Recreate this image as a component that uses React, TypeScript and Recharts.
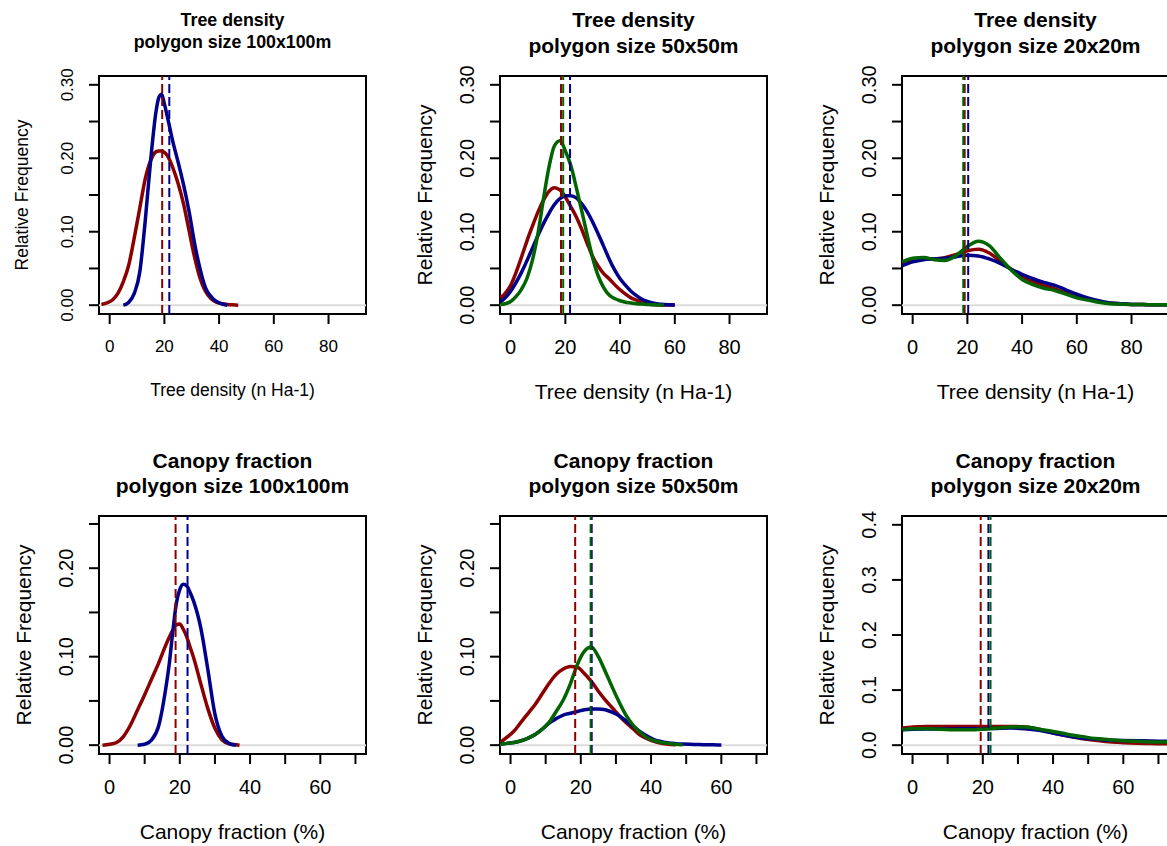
import React from "react";
import { LineChart, Line, XAxis, YAxis, ReferenceLine, ReferenceArea } from "recharts";

const RED = "#8B0000";
const BLUE = "#00008B";
const GREEN = "#006400";
const FONT = '"Liberation Sans", Arial, Helvetica, sans-serif';

// ---- axis ticks / labels ----
const TD_X_TICKS = [0, 20, 40, 60, 80];
const TD_X_LABELS = ["0", "20", "40", "60", "80"];
const TD_Y_TICKS = [0, 0.05, 0.1, 0.15, 0.2, 0.25, 0.3];
const TD_Y_LABELS = ["0.00", "", "0.10", "", "0.20", "", "0.30"];
const CF_X_TICKS = [0, 10, 20, 30, 40, 50, 60, 70];
const CF_X_LABELS = ["0", "", "20", "", "40", "", "60", ""];
const CF_Y_TICKS = [0, 0.05, 0.1, 0.15, 0.2, 0.25];
const CF_Y_LABELS = ["0.00", "", "0.10", "", "0.20", ""];
const CF20_Y_TICKS = [0, 0.1, 0.2, 0.3, 0.4];
const CF20_Y_LABELS = ["0.0", "0.1", "0.2", "0.3", "0.4"];

// ---- tree density, 100x100m ----
const td100X = [-3, -1, 1, 3, 5, 7, 9, 11, 13, 15, 17, 18, 19, 20, 21, 23, 25, 27, 29, 31, 33, 35, 37, 39, 41, 43, 45, 47];
const td100Red = [0.001, 0.003, 0.007, 0.016, 0.032, 0.055, 0.092, 0.132, 0.172, 0.197, 0.209, 0.21, 0.21, 0.208, 0.204, 0.188, 0.166, 0.138, 0.102, 0.066, 0.037, 0.019, 0.009, 0.004, 0.002, 0.001, 0.0005, 0];
const td100Blue = [null, null, null, null, 0, 0.004, 0.016, 0.045, 0.115, 0.198, 0.265, 0.283, 0.287, 0.274, 0.258, 0.224, 0.195, 0.164, 0.128, 0.085, 0.05, 0.024, 0.012, 0.005, 0.002, 0, null, null];
const td100Mean = [19.2, 21.8, null];

// ---- tree density, 50x50m ----
const td50X = [-3.8, -2, 0, 2, 4, 6, 8, 10, 12, 14, 16, 18, 20, 22, 24, 26, 28, 30, 32, 34, 36, 38, 40, 42, 44, 46, 48, 50, 52, 54, 56, 58, 60];
const td50Red = [0.01, 0.016, 0.027, 0.045, 0.066, 0.088, 0.108, 0.127, 0.143, 0.155, 0.16, 0.157, 0.147, 0.134, 0.12, 0.103, 0.084, 0.066, 0.053, 0.043, 0.036, 0.028, 0.021, 0.015, 0.01, 0.007, 0.004, 0.002, 0.001, 0.0006, 0.0003, 0.0002, 0.0001];
const td50Blue = [0.004, 0.01, 0.019, 0.031, 0.045, 0.061, 0.078, 0.095, 0.111, 0.125, 0.137, 0.145, 0.149, 0.149, 0.146, 0.138, 0.127, 0.113, 0.097, 0.08, 0.063, 0.048, 0.036, 0.027, 0.019, 0.013, 0.008, 0.005, 0.003, 0.0015, 0.001, 0.0005, 0.0002];
const td50Green = [0.001, 0.002, 0.005, 0.012, 0.022, 0.037, 0.062, 0.098, 0.145, 0.188, 0.217, 0.224, 0.21, 0.19, 0.16, 0.128, 0.095, 0.064, 0.04, 0.024, 0.014, 0.009, 0.006, 0.004, 0.003, 0.002, 0.0015, 0.001, 0.0005, 0.0003, 0.0001, null, null];
const td50Mean = [18.4, 21.7, 19.2];

// ---- tree density, 20x20m ----
const td20X = [-3.8, 0, 4, 8, 12, 16, 20, 24, 28, 32, 36, 40, 44, 48, 52, 56, 60, 64, 68, 72, 76, 80, 84, 88, 92, 93.6];
const td20Red = [0.057, 0.061, 0.063, 0.063, 0.065, 0.069, 0.074, 0.076, 0.071, 0.06, 0.049, 0.039, 0.032, 0.027, 0.022, 0.017, 0.013, 0.009, 0.005, 0.003, 0.002, 0.001, 0.0008, 0.0006, 0.0005, 0.0005];
const td20Blue = [0.054, 0.059, 0.062, 0.063, 0.064, 0.066, 0.068, 0.067, 0.063, 0.057, 0.049, 0.042, 0.036, 0.031, 0.027, 0.021, 0.015, 0.01, 0.006, 0.003, 0.002, 0.001, 0.0008, 0.0006, 0.0005, 0.0005];
const td20Green = [0.059, 0.064, 0.065, 0.062, 0.061, 0.068, 0.08, 0.087, 0.081, 0.064, 0.048, 0.035, 0.028, 0.023, 0.02, 0.015, 0.01, 0.007, 0.004, 0.002, 0.0015, 0.001, 0.0008, 0.0006, 0.0005, 0.0005];
const td20Mean = [19.0, 20.3, 18.5];

// ---- canopy fraction, 100x100m ----
const cf100X = [-2, 0, 2, 4, 6, 8, 10, 12, 14, 16, 17, 18, 19, 20, 21, 22, 23, 24, 26, 28, 30, 32, 34, 36, 37];
const cf100Red = [0, 0.001, 0.003, 0.01, 0.023, 0.04, 0.057, 0.075, 0.093, 0.113, 0.122, 0.13, 0.136, 0.137, 0.131, 0.122, 0.11, 0.098, 0.069, 0.041, 0.019, 0.006, 0.0015, 0.0005, 0];
const cf100Blue = [null, null, null, null, null, 0, 0.001, 0.006, 0.022, 0.064, 0.092, 0.128, 0.16, 0.176, 0.182, 0.18, 0.172, 0.162, 0.132, 0.085, 0.035, 0.01, 0.002, 0, null];
const cf100Mean = [18.8, 22.2, null];

// ---- canopy fraction, 50x50m ----
const cf50X = [-2.9, -1, 1, 3, 5, 7, 9, 11, 13, 15, 17, 19, 21, 23, 25, 27, 29, 31, 33, 35, 37, 39, 41, 43, 45, 47, 49, 51, 53, 55, 57, 59, 60];
const cf50Red = [0.003, 0.009, 0.016, 0.026, 0.036, 0.046, 0.058, 0.07, 0.08, 0.086, 0.089, 0.088, 0.081, 0.072, 0.061, 0.051, 0.042, 0.033, 0.025, 0.018, 0.011, 0.007, 0.004, 0.002, 0.001, 0.0005, null, null, null, null, null, null, null];
const cf50Blue = [0.001, 0.002, 0.003, 0.005, 0.008, 0.012, 0.018, 0.025, 0.03, 0.034, 0.036, 0.038, 0.04, 0.041, 0.041, 0.04, 0.037, 0.033, 0.027, 0.021, 0.015, 0.01, 0.006, 0.004, 0.0025, 0.0017, 0.0012, 0.0009, 0.0007, 0.0005, 0.0004, 0.0003, 0.0003];
const cf50Green = [0.001, 0.002, 0.003, 0.005, 0.008, 0.012, 0.018, 0.026, 0.038, 0.051, 0.069, 0.091, 0.106, 0.111, 0.1, 0.083, 0.065, 0.048, 0.033, 0.022, 0.014, 0.008, 0.005, 0.003, 0.002, 0.001, 0.0005, null, null, null, null, null, null];
const cf50Mean = [18.4, 23.1, 22.8];

// ---- canopy fraction, 20x20m ----
const cf20X = [-2.9, 0, 4, 8, 12, 16, 20, 24, 28, 32, 36, 40, 44, 48, 52, 56, 60, 64, 68, 72, 73];
const cf20Red = [0.031, 0.033, 0.034, 0.034, 0.034, 0.034, 0.034, 0.034, 0.034, 0.033, 0.029, 0.022, 0.017, 0.012, 0.009, 0.006, 0.0045, 0.0035, 0.003, 0.0025, 0.0025];
const cf20Blue = [0.028, 0.029, 0.0295, 0.0295, 0.0295, 0.03, 0.03, 0.0305, 0.031, 0.03, 0.027, 0.022, 0.017, 0.013, 0.011, 0.009, 0.0085, 0.008, 0.0075, 0.0072, 0.0071];
const cf20Green = [0.028, 0.03, 0.03, 0.029, 0.028, 0.028, 0.029, 0.031, 0.033, 0.033, 0.029, 0.025, 0.02, 0.016, 0.012, 0.01, 0.008, 0.007, 0.006, 0.0058, 0.0057];
const cf20Mean = [19.4, 21.6, 22.2];

const TD_TITLE = "Tree density";
const CF_TITLE = "Canopy fraction";
const TD_XLAB = "Tree density (n Ha-1)";
const CF_XLAB = "Canopy fraction (%)";
const Y_LAB = "Relative Frequency";

const BW = 267;
const BH = 238;
const ML = 90;
const MT = 20;
const MR = 12;
const MB = 60;
const LW = 3.5;

type Cfg = {
  left: number;
  top: number;
  xs: number[];
  red: (number | null)[];
  blue: (number | null)[];
  green?: (number | null)[];
  mean: (number | null)[];
  xDomain: [number, number];
  yDomain: [number, number];
  xTicks: number[];
  xLabels: string[];
  yTicks: number[];
  yLabels: string[];
  title: string;
  sub: string;
  xLab: string;
  tickFs: number;
  labFs: number;
  titleFs: number;
  t1: number;
  t2: number;
  xLabY: number;
};

const panels: Cfg[] = [
  {
    left: 99, top: 76, xs: td100X, red: td100Red, blue: td100Blue, mean: td100Mean,
    xDomain: [-3.9, 93.7], yDomain: [-0.012, 0.312], xTicks: TD_X_TICKS, xLabels: TD_X_LABELS,
    yTicks: TD_Y_TICKS, yLabels: TD_Y_LABELS, title: TD_TITLE, sub: "polygon size 100x100m", xLab: TD_XLAB,
    tickFs: 17, labFs: 17.5, titleFs: 17.8, t1: 20.7, t2: 42.8, xLabY: 391,
  },
  {
    left: 500, top: 76, xs: td50X, red: td50Red, blue: td50Blue, green: td50Green, mean: td50Mean,
    xDomain: [-3.9, 93.7], yDomain: [-0.012, 0.312], xTicks: TD_X_TICKS, xLabels: TD_X_LABELS,
    yTicks: TD_Y_TICKS, yLabels: TD_Y_LABELS, title: TD_TITLE, sub: "polygon size 50x50m", xLab: TD_XLAB,
    tickFs: 20, labFs: 21, titleFs: 21, t1: 19.2, t2: 44.8, xLabY: 390.5,
  },
  {
    left: 902, top: 76, xs: td20X, red: td20Red, blue: td20Blue, green: td20Green, mean: td20Mean,
    xDomain: [-3.9, 93.7], yDomain: [-0.012, 0.312], xTicks: TD_X_TICKS, xLabels: TD_X_LABELS,
    yTicks: TD_Y_TICKS, yLabels: TD_Y_LABELS, title: TD_TITLE, sub: "polygon size 20x20m", xLab: TD_XLAB,
    tickFs: 20, labFs: 21, titleFs: 21, t1: 19.2, t2: 44.8, xLabY: 390.5,
  },
  {
    left: 99, top: 516, xs: cf100X, red: cf100Red, blue: cf100Blue, mean: cf100Mean,
    xDomain: [-3.0, 73.0], yDomain: [-0.01, 0.259], xTicks: CF_X_TICKS, xLabels: CF_X_LABELS,
    yTicks: CF_Y_TICKS, yLabels: CF_Y_LABELS, title: CF_TITLE, sub: "polygon size 100x100m", xLab: CF_XLAB,
    tickFs: 20, labFs: 21, titleFs: 21, t1: 459.5, t2: 485.2, xLabY: 830.5,
  },
  {
    left: 500, top: 516, xs: cf50X, red: cf50Red, blue: cf50Blue, green: cf50Green, mean: cf50Mean,
    xDomain: [-3.0, 73.0], yDomain: [-0.01, 0.259], xTicks: CF_X_TICKS, xLabels: CF_X_LABELS,
    yTicks: CF_Y_TICKS, yLabels: CF_Y_LABELS, title: CF_TITLE, sub: "polygon size 50x50m", xLab: CF_XLAB,
    tickFs: 20, labFs: 21, titleFs: 21, t1: 459.5, t2: 485.2, xLabY: 830.5,
  },
  {
    left: 902, top: 516, xs: cf20X, red: cf20Red, blue: cf20Blue, green: cf20Green, mean: cf20Mean,
    xDomain: [-3.0, 73.0], yDomain: [-0.016, 0.416], xTicks: CF_X_TICKS, xLabels: CF_X_LABELS,
    yTicks: CF20_Y_TICKS, yLabels: CF20_Y_LABELS, title: CF_TITLE, sub: "polygon size 20x20m", xLab: CF_XLAB,
    tickFs: 20, labFs: 21, titleFs: 21, t1: 459.5, t2: 485.2, xLabY: 830.5,
  },
];

const COLORS = [RED, BLUE, GREEN];

function Panel({ cfg }: { cfg: Cfg }) {
  const rows = cfg.xs.map((x, i) => ({
    x,
    red: cfg.red[i],
    blue: cfg.blue[i],
    green: cfg.green ? cfg.green[i] : null,
  }));

  const XTick = (p: any) => {
    const i = cfg.xTicks.indexOf(p.payload.value);
    return (
      <text x={p.x} y={MT + BH + 32.5} textAnchor="middle" dominantBaseline="central"
        fontSize={cfg.tickFs} fontFamily={FONT} fill="#000">
        {cfg.xLabels[i]}
      </text>
    );
  };
  const YTick = (p: any) => {
    const i = cfg.yTicks.indexOf(p.payload.value);
    const tx = ML - (cfg.tickFs < 20 ? 31.5 : 33.5);
    return (
      <text transform={`translate(${tx},${p.y}) rotate(-90)`} textAnchor="middle" dominantBaseline="central"
        fontSize={cfg.tickFs} fontFamily={FONT} fill="#000">
        {cfg.yLabels[i]}
      </text>
    );
  };

  const cx = cfg.left + BW / 2;
  const text = (extra: React.CSSProperties): React.CSSProperties => ({
    position: "absolute",
    transform: "translate(-50%, -50%)",
    whiteSpace: "nowrap",
    lineHeight: 1,
    fontFamily: FONT,
    color: "#000",
    ...extra,
  });

  return (
    <>
      <div style={{ position: "absolute", left: cfg.left - ML, top: cfg.top - MT }}>
        <LineChart
          width={ML + BW + MR}
          height={MT + BH + MB}
          data={rows}
          margin={{ top: MT, left: ML - 60, right: MR, bottom: MB - 30 }}
        >
          <XAxis dataKey="x" type="number" domain={cfg.xDomain} ticks={cfg.xTicks} allowDataOverflow
            height={30} interval={0} axisLine={false} tickSize={10} stroke="#000"
            tickLine={{ stroke: "#000", strokeWidth: 2 }} tick={XTick} />
          <YAxis type="number" domain={cfg.yDomain} ticks={cfg.yTicks} allowDataOverflow
            width={60} interval={0} axisLine={false} tickSize={10} stroke="#000"
            tickLine={{ stroke: "#000", strokeWidth: 2 }} tick={YTick} />
          <ReferenceLine y={0} stroke="#dcdcdc" strokeWidth={2} />
          <Line dataKey="red" type="monotone" stroke={RED} strokeWidth={LW} dot={false} isAnimationActive={false} />
          <Line dataKey="blue" type="monotone" stroke={BLUE} strokeWidth={LW} dot={false} isAnimationActive={false} />
          {cfg.green && (
            <Line dataKey="green" type="monotone" stroke={GREEN} strokeWidth={LW} dot={false} isAnimationActive={false} />
          )}
          {cfg.mean.map((m, i) =>
            m === null ? null : (
              <ReferenceLine key={i} x={m} stroke={COLORS[i]} strokeWidth={2} strokeDasharray="9 4" />
            )
          )}
          <ReferenceArea x1={cfg.xDomain[0]} x2={cfg.xDomain[1]} y1={cfg.yDomain[0]} y2={cfg.yDomain[1]}
            fill="none" fillOpacity={0} stroke="#000" strokeWidth={2} strokeOpacity={1} />
        </LineChart>
      </div>
      <div style={text({ left: cx, top: cfg.t1, fontSize: cfg.titleFs, fontWeight: "bold" })}>{cfg.title}</div>
      <div style={text({ left: cx, top: cfg.t2, fontSize: cfg.titleFs, fontWeight: "bold" })}>{cfg.sub}</div>
      <div style={text({ left: cx, top: cfg.xLabY, fontSize: cfg.labFs })}>{cfg.xLab}</div>
      <div style={text({ left: cfg.left - 76, top: cfg.top + BH / 2, fontSize: cfg.labFs, transform: "translate(-50%, -50%) rotate(-90deg)" })}>
        {Y_LAB}
      </div>
    </>
  );
}

export default function App() {
  return (
    <div style={{ position: "absolute", left: 0, top: 0, width: 1167, height: 846, overflow: "hidden", background: "#fff" }}>
      {panels.map((p, i) => (
        <Panel key={i} cfg={p} />
      ))}
    </div>
  );
}
